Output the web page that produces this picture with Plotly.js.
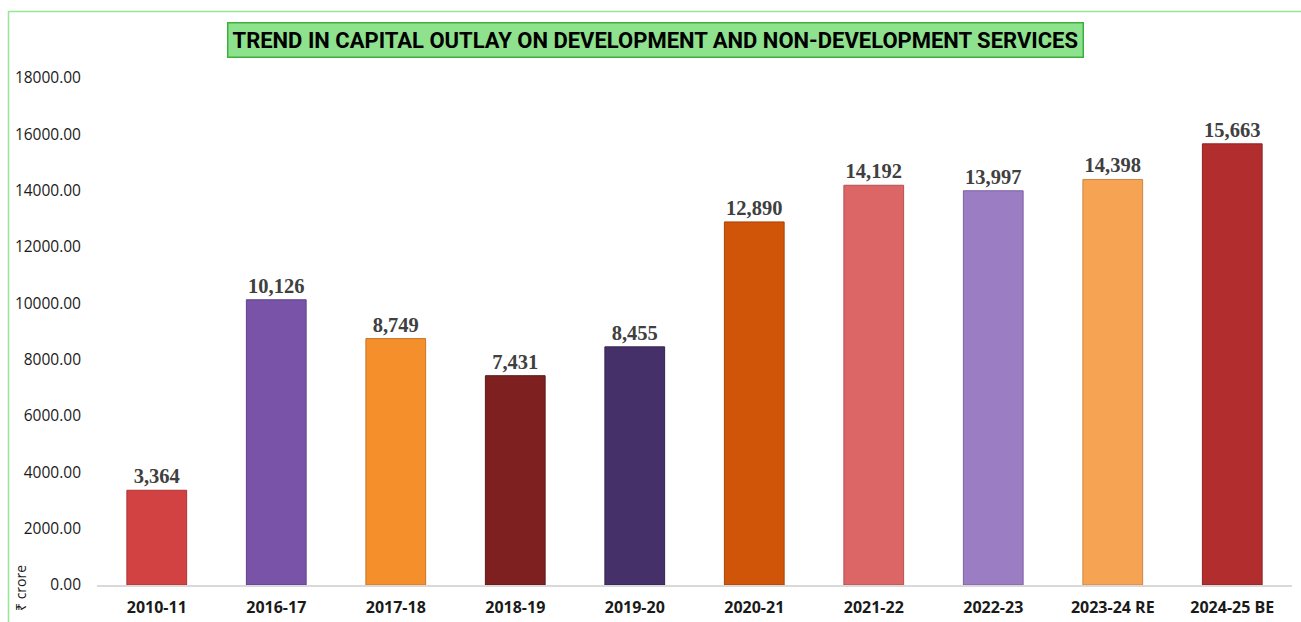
<!DOCTYPE html>
<html>
<head>
<meta charset="utf-8">
<script src="https://cdn.plot.ly/plotly-3.0.1.min.js"></script>
<style>html,body{margin:0;padding:0;background:#fff;}#chart{width:1301px;height:622px;}</style>
</head>
<body>
<div id="chart"></div>
<script>
const categories = ["2010-11","2016-17","2017-18","2018-19","2019-20","2020-21","2021-22","2022-23","2023-24 RE","2024-25 BE"];
const outlay = [3364, 10126, 8749, 7431, 8455, 12890, 14192, 13997, 14398, 15663];
const yTickVals = [0,2000,4000,6000,8000,10000,12000,14000,16000,18000];
const barColors = ["#D24242","#7853A8","#F58F2C","#7E2020","#45306A","#D05508","#DC6666","#9A7DC2","#F6A454","#B22D2D"];
const barEdges  = ["#A83434","#5E4088","#C8742A","#5E1818","#34244F","#A44205","#B05050","#7D62A3","#CC8644","#8E2222"];

const W = 1301, H = 622;
const L = 97, R = 9, T = 78, B = 37;
const pw = W - L - R, ph = H - T - B;
const px = v => (v - L) / pw;
const py = v => (H - B - v) / ph;

const trace = {
  type: 'bar',
  x: categories,
  y: outlay,
  width: 0.5,
  marker: {color: barColors, line: {color: barEdges, width: 1}},
  text: outlay.map(v => v.toLocaleString('en-US')),
  textposition: 'outside',
  cliponaxis: false,
  textfont: {family: 'Liberation Serif', size: 20.5, color: '#404040', weight: 'bold'},
  hoverinfo: 'x+y'
};

const layout = {
  width: W, height: H,
  margin: {l: L, r: R, t: T, b: B},
  paper_bgcolor: '#ffffff',
  plot_bgcolor: '#ffffff',
  showlegend: false,
  bargap: 0.5,
  xaxis: {
    type: 'category',
    showgrid: false,
    showline: true, linecolor: '#D9D9D9', linewidth: 1.5,
    ticks: '',
    ticklabelstandoff: 7,
    tickfont: {family: 'Open Sans', size: 16, color: '#1a1a1a', weight: 'bold'},
    fixedrange: true
  },
  yaxis: {
    range: [0, 18000],
    tickvals: yTickVals,
    ticktext: yTickVals.map(v => v.toFixed(2)),
    showgrid: false, zeroline: false, showline: false,
    ticks: '',
    ticklabelstandoff: 15,
    tickfont: {family: 'Open Sans', size: 15.5, color: '#1a1a1a'},
    fixedrange: true
  },
  shapes: [
    {type: 'rect', xref: 'paper', yref: 'paper', x0: px(8.5), x1: px(1310), y0: py(640), y1: py(11.5),
     line: {color: '#95E895', width: 1.5}, fillcolor: 'rgba(0,0,0,0)', layer: 'below'}
  ],
  annotations: [
    {xref: 'paper', yref: 'paper', x: px(655), y: py(40), xanchor: 'center', yanchor: 'middle',
     text: 'TREND IN CAPITAL OUTLAY ON DEVELOPMENT AND NON-DEVELOPMENT SERVICES',
     showarrow: false, bgcolor: '#8EE28E', bordercolor: '#3DAF3D', borderwidth: 1.5, borderpad: 4,
     font: {family: 'Roboto', size: 22, color: '#000000', weight: 'bold'}},
    {xref: 'paper', yref: 'paper', x: px(20), y: py(588), xanchor: 'center', yanchor: 'middle',
     text: '₹ crore', textangle: -90, showarrow: false,
     font: {family: 'Open Sans', size: 14, color: '#1a1a1a'}}
  ]
};

Plotly.newPlot('chart', [trace], layout, {displayModeBar: false, responsive: false});
</script>
</body>
</html>
